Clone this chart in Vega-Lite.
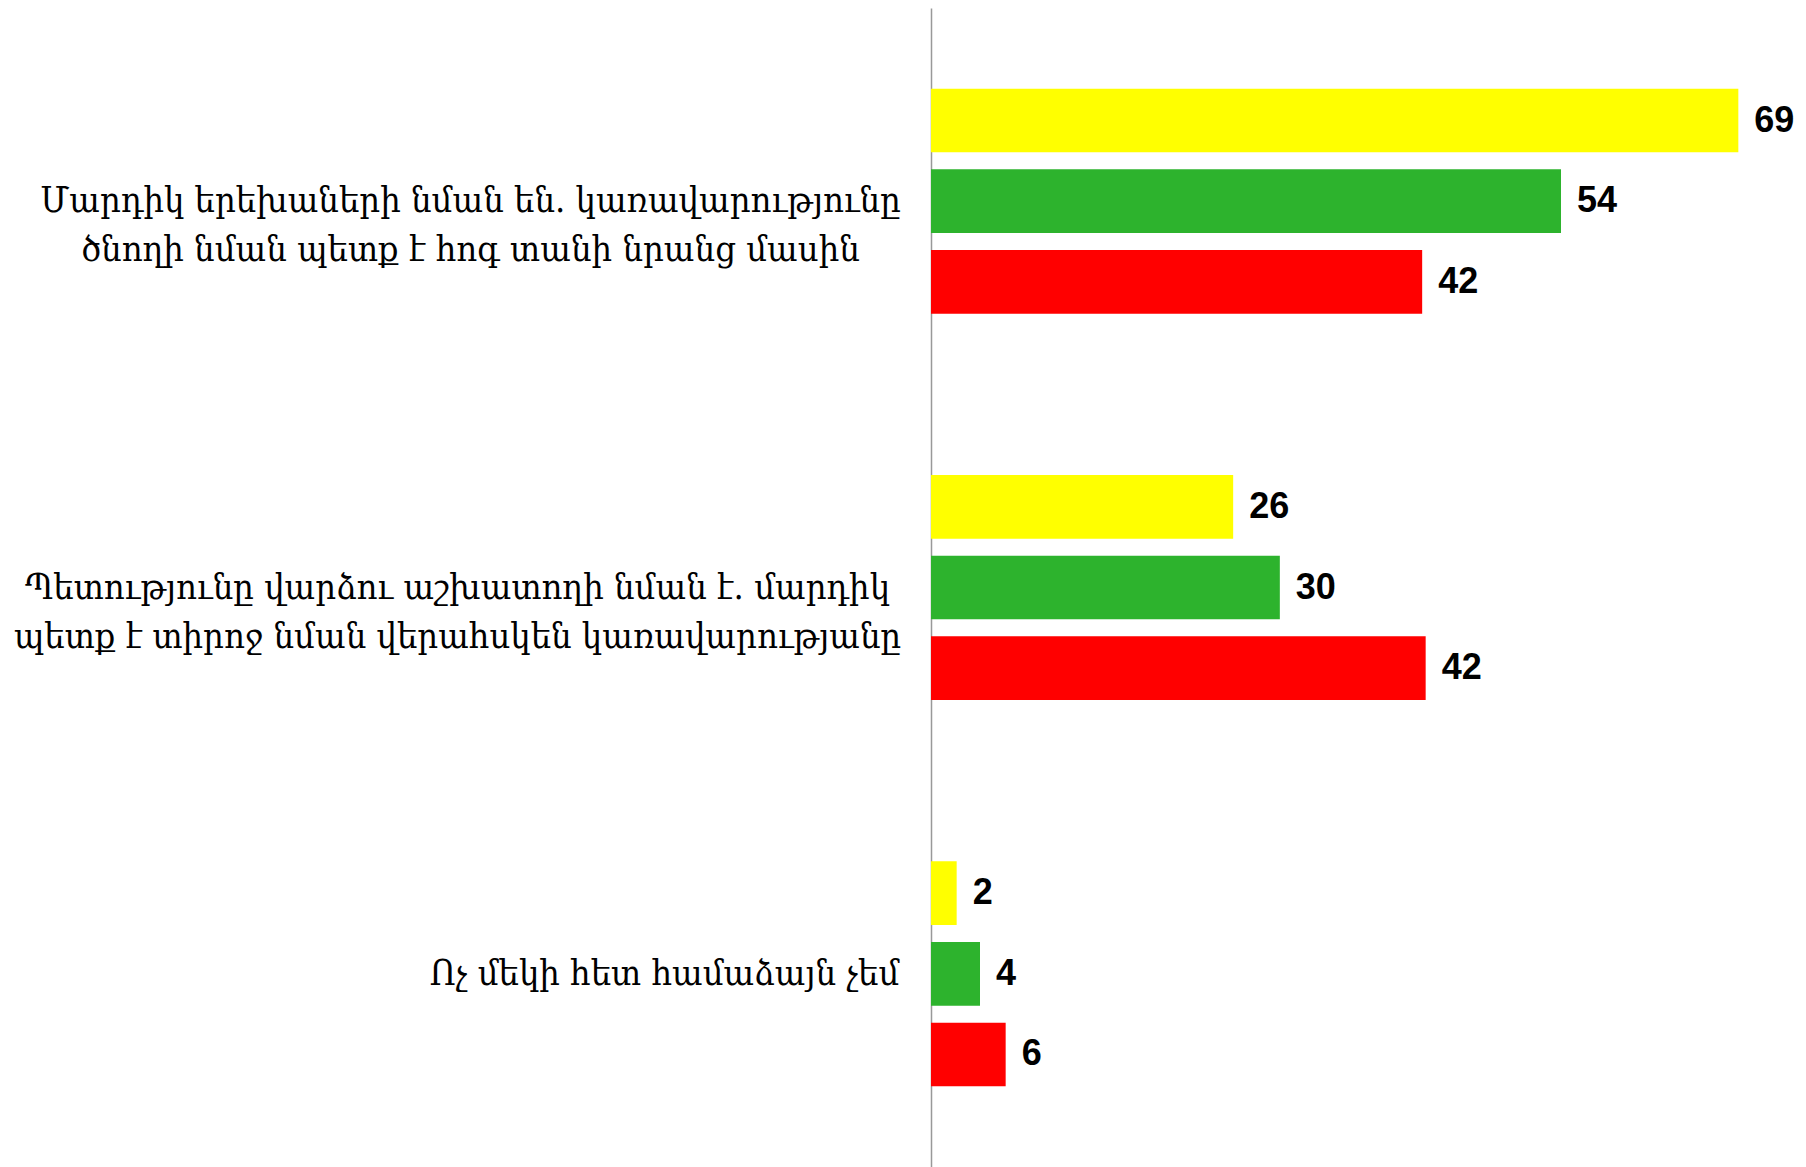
{
  "$schema": "https://vega.github.io/schema/vega-lite/v6.json",
  "autosize": "none",
  "padding": {"left": 931, "top": 8, "right": 0, "bottom": 0},
  "width": 875,
  "height": 1159,
  "background": "white",
  "config": {"view": {"stroke": null}},
  "data": {
    "values": [
      {"q": "Մարդիկ երեխաների նման են. կառավարությունը|ծնողի նման պետք է հոգ տանի նրանց մասին", "series": "1", "value": 69.2, "label": "69"},
      {"q": "Մարդիկ երեխաների նման են. կառավարությունը|ծնողի նման պետք է հոգ տանի նրանց մասին", "series": "2", "value": 54.0, "label": "54"},
      {"q": "Մարդիկ երեխաների նման են. կառավարությունը|ծնողի նման պետք է հոգ տանի նրանց մասին", "series": "3", "value": 42.1, "label": "42"},
      {"q": "Պետությունը վարձու աշխատողի նման է. մարդիկ|պետք է տիրոջ նման վերահսկեն կառավարությանը", "series": "1", "value": 25.9, "label": "26"},
      {"q": "Պետությունը վարձու աշխատողի նման է. մարդիկ|պետք է տիրոջ նման վերահսկեն կառավարությանը", "series": "2", "value": 29.9, "label": "30"},
      {"q": "Պետությունը վարձու աշխատողի նման է. մարդիկ|պետք է տիրոջ նման վերահսկեն կառավարությանը", "series": "3", "value": 42.4, "label": "42"},
      {"q": "Ոչ մեկի հետ համաձայն չեմ", "series": "1", "value": 2.2, "label": "2"},
      {"q": "Ոչ մեկի հետ համաձայն չեմ", "series": "2", "value": 4.2, "label": "4"},
      {"q": "Ոչ մեկի հետ համաձայն չեմ", "series": "3", "value": 6.4, "label": "6"}
    ]
  },
  "encoding": {
    "y": {
      "field": "q",
      "type": "nominal",
      "sort": null,
      "scale": {"paddingInner": 0, "paddingOuter": 0},
      "axis": {
        "title": null,
        "domainColor": "#999999",
        "domainWidth": 1.5,
        "ticks": false,
        "labelPadding": {"condition": [{"test": "datum.index < 0.25", "value": 461}, {"test": "datum.index < 0.75", "value": 474}], "value": 267},
        "labelLimit": 0,
        "labelFont": "DejaVu Serif Condensed",
        "labelFontSize": 36,
        "labelColor": "black",
        "labelLineHeight": 49,
        "labelAlign": "center",
        "labelBaseline": "middle",
        "labelExpr": "split(datum.label, '|')"
      }
    },
    "yOffset": {
      "field": "series",
      "type": "nominal",
      "sort": null,
      "scale": {"paddingInner": 0.21, "paddingOuter": 1.0}
    },
    "x": {
      "field": "value",
      "type": "quantitative",
      "scale": {"domain": [0, 75], "nice": false, "zero": true},
      "axis": null
    }
  },
  "layer": [
    {
      "mark": {"type": "bar"},
      "encoding": {
        "color": {
          "field": "series",
          "type": "nominal",
          "scale": {"domain": ["1", "2", "3"], "range": ["#FFFF00", "#2DB32D", "#FF0000"]},
          "legend": null
        }
      }
    },
    {
      "mark": {"type": "text", "align": "left", "baseline": "middle", "dx": 16, "font": "Liberation Sans", "fontWeight": "bold", "fontSize": 36, "color": "black"},
      "encoding": {"text": {"field": "label", "type": "nominal"}}
    }
  ]
}
